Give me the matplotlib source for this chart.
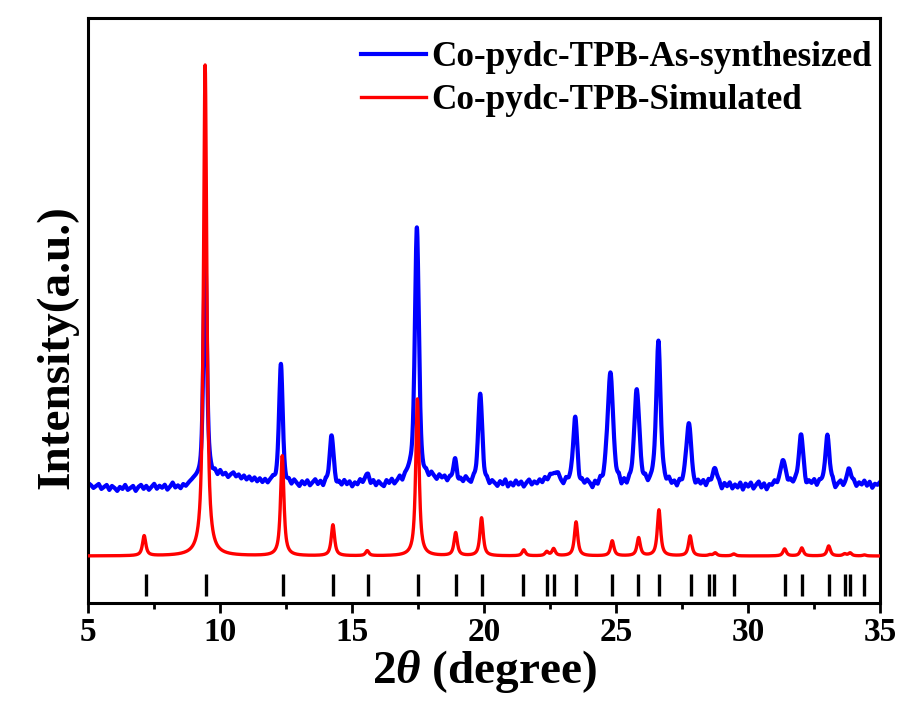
"""
PXRD comparison: Co-pydc-TPB as-synthesized vs simulated.
Saves out.png
"""
import numpy as np
import matplotlib
matplotlib.use("Agg")
import matplotlib.pyplot as plt
from matplotlib.ticker import MultipleLocator

plt.rcParams["font.family"] = ["Liberation Serif", "DejaVu Serif"]
plt.rcParams["font.weight"] = "bold"
plt.rcParams["mathtext.fontset"] = "custom"
plt.rcParams["mathtext.rm"] = "Liberation Serif:bold"
plt.rcParams["mathtext.it"] = "Liberation Serif:italic:bold"

# ── Simulated pattern: peak positions (2θ), heights, FWHM ─────────────────────
sim_pos = [7.12, 9.43, 12.35, 14.27, 15.57, 17.47, 18.92, 19.90, 21.50, 22.37,
           22.63, 23.48, 24.85, 25.85, 26.62, 27.80, 28.55, 28.75, 29.45, 31.38,
           32.03, 33.05, 33.65, 33.86, 34.40]
sim_height = [20, 491, 100, 31, 5, 157, 23, 38, 6, 4,
              7, 34, 15, 18, 46, 20, 1, 3, 2, 7,
              8, 10, 2, 3, 1]
sim_fwhm = 0.15
sim_base = 47

# ── As-synthesized pattern: peaks on a noisy background ───────────────────────
exp_pos = [9.43, 12.30, 14.22, 15.55, 17.45, 18.90, 19.85, 22.70, 23.45, 24.78,
           25.78, 26.60, 27.75, 28.75, 31.33, 32.00, 33.00, 33.83]
exp_height = [230, 116, 44, 6, 248, 22, 84, 8, 65, 108,
              94, 141, 60, 15, 21, 51, 47, 13]
exp_fwhm = [0.15, 0.16, 0.18, 0.20, 0.18, 0.15, 0.18, 0.30, 0.18, 0.25,
            0.22, 0.20, 0.22, 0.20, 0.25, 0.18, 0.20, 0.20]

# background read every 0.1° from 5 to 35 (one row per degree)
exp_bg = [120, 118, 115, 117, 119, 114, 116, 118, 113, 117,   # 5
          115, 112, 116, 114, 118, 113, 115, 117, 112, 116,   # 6
          118, 114, 117, 113, 116, 119, 114, 117, 115, 118,   # 7
          113, 116, 120, 115, 117, 114, 118, 116, 119, 121,   # 8
          123, 124, 125, 126, 127, 128, 131, 127, 130, 126,   # 9
          131, 127, 129, 125, 128, 130, 126, 128, 124, 127,   # 10
          123, 126, 122, 125, 121, 124, 120, 123, 119, 122,   # 11
          124, 121, 125, 123, 121, 118, 121, 117, 122, 119,   # 12
          116, 121, 118, 122, 117, 120, 123, 118, 121, 116,   # 13
          122, 119, 124, 121, 116, 120, 117, 122, 118, 121,   # 14
          116, 120, 118, 123, 119, 121, 124, 118, 122, 117,   # 15
          121, 118, 116, 122, 119, 123, 118, 121, 125, 120,   # 16
          126, 128, 131, 129, 127, 128, 126, 124, 127, 123,   # 17
          128, 125, 122, 127, 124, 126, 121, 125, 123, 122,   # 18
          118, 123, 120, 125, 121, 118, 124, 122, 126, 124,   # 19
          119, 122, 117, 121, 119, 116, 121, 118, 123, 116,   # 20
          120, 117, 122, 118, 121, 116, 120, 123, 118, 121,   # 21
          119, 123, 120, 125, 122, 126, 123, 121, 124, 120,   # 22
          117, 123, 121, 124, 122, 119, 114, 120, 117, 121,   # 23
          118, 113, 119, 115, 121, 117, 123, 120, 122, 118,   # 24
          116, 121, 113, 119, 114, 120, 118, 121, 117, 120,   # 25
          117, 121, 115, 119, 121, 118, 120, 114, 119, 116,   # 26
          121, 116, 119, 114, 120, 117, 121, 118, 120, 116,   # 27
          114, 120, 117, 121, 116, 122, 119, 121, 117, 119,   # 28
          113, 119, 116, 120, 114, 118, 115, 120, 113, 119,   # 29
          116, 120, 114, 118, 121, 115, 119, 113, 118, 117,   # 30
          121, 117, 120, 122, 119, 116, 121, 118, 122, 120,   # 31
          117, 121, 115, 120, 118, 122, 116, 121, 119, 117,   # 32
          121, 116, 120, 113, 118, 121, 116, 119, 122, 118,   # 33
          121, 116, 120, 118, 122, 117, 121, 115, 119, 118,   # 34
          121]                                                # 35

# Bragg reflection markers
hkl_pos = [7.18, 9.45, 12.37, 14.28, 15.58, 17.51, 18.94, 19.90, 21.48, 22.36,
           22.64, 23.48, 24.83, 25.83, 26.61, 27.84, 28.53, 28.72, 29.45, 31.40,
           32.05, 33.07, 33.66, 33.85, 34.40]

LEGEND = ["Co-pydc-TPB-As-synthesized", "Co-pydc-TPB-Simulated"]


def pvoigt(x, x0, h, fwhm, eta):
    g = np.exp(-4 * np.log(2) * (x - x0) ** 2 / fwhm ** 2)
    lo = 1.0 / (1.0 + 4 * (x - x0) ** 2 / fwhm ** 2)
    return h * (eta * lo + (1 - eta) * g)


two_theta = np.arange(5.0, 35.0001, 0.01)

sim = np.full_like(two_theta, sim_base, dtype=float)
for p, h in zip(sim_pos, sim_height):
    sim += pvoigt(two_theta, p, h, sim_fwhm, 0.85)

bg_x = np.linspace(5.0, 35.0, len(exp_bg))
exp = np.interp(two_theta, bg_x, exp_bg).astype(float)
for p, h, w in zip(exp_pos, exp_height, exp_fwhm):
    exp += pvoigt(two_theta, p, h, w, 0.5)

# ── Plot ──────────────────────────────────────────────────────────────────────
fig = plt.figure(figsize=(9, 7.09), dpi=100)
ax = fig.add_axes([0.098, 0.1495, 0.880, 0.825])

ax.plot(two_theta, exp, color="#0000FF", lw=3.0, label=LEGEND[0], zorder=2)
ax.plot(two_theta, sim, color="#FF0000", lw=2.4, label=LEGEND[1], zorder=3)
ax.vlines(hkl_pos, 7, 29, color="black", lw=2.4, zorder=3)

ax.set_xlim(5, 35)
ax.set_ylim(0, 585)
ax.set_yticks([])
ax.xaxis.set_major_locator(MultipleLocator(5))
ax.xaxis.set_minor_locator(MultipleLocator(2.5))
ax.tick_params(axis="x", which="major", direction="out", length=7, width=2,
               labelsize=24, pad=3, top=False)
ax.tick_params(axis="x", which="minor", direction="out", length=4, width=2,
               top=False)
for lab in ax.get_xticklabels():
    lab.set_fontweight("bold")
for spine in ax.spines.values():
    spine.set_linewidth(2.2)

ax.set_xlabel(r"2$\theta$ (degree)", fontsize=34, fontweight="bold", labelpad=0)
ax.set_ylabel("Intensity(a.u.)", fontsize=34, fontweight="bold")
ax.yaxis.set_label_coords(-0.012, 0.437)

ax.legend(loc="upper right", bbox_to_anchor=(1.0, 0.976), frameon=False,
          handlelength=1.85, handletextpad=0.15, labelspacing=0.3,
          borderaxespad=0.15, borderpad=0.1,
          prop={"weight": "bold", "size": 25.3})

fig.savefig("out.png", dpi=100, facecolor="white")
